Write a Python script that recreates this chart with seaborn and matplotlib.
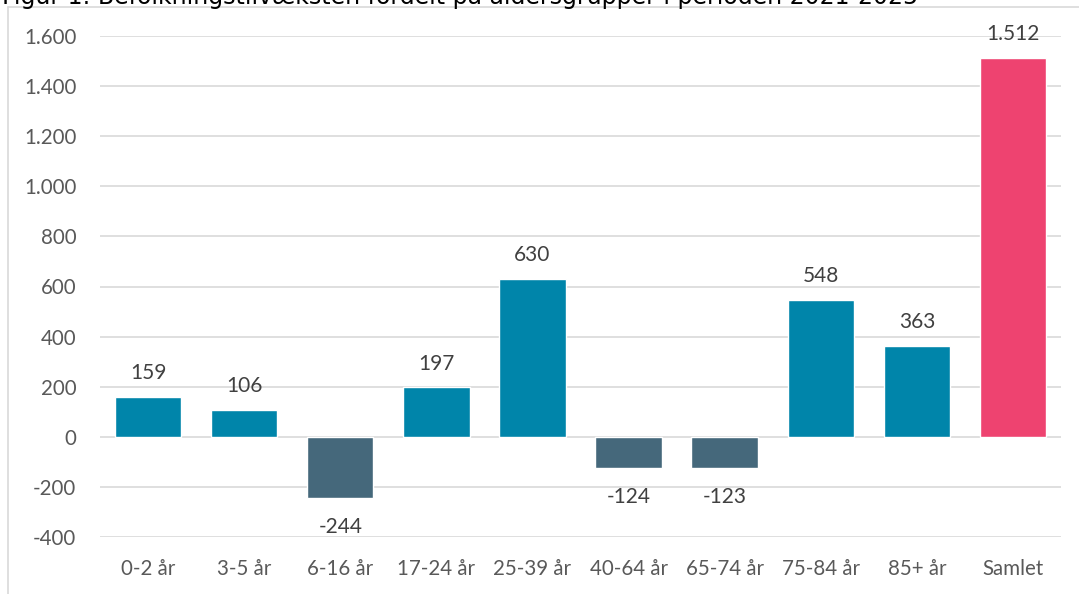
import matplotlib
matplotlib.use("Agg")
import matplotlib.pyplot as plt
import matplotlib.ticker as mticker
from matplotlib.lines import Line2D
import seaborn as sns
import pandas as pd

categories = ["0-2 år", "3-5 år", "6-16 år", "17-24 år", "25-39 år",
              "40-64 år", "65-74 år", "75-84 år", "85+ år", "Samlet"]
values = [159, 106, -244, 197, 630, -124, -123, 548, 363, 1512]
y_ticks = [-400, -200, 0, 200, 400, 600, 800, 1000, 1200, 1400, 1600]
title = "Figur 1: Befolkningstilvæksten fordelt på aldersgrupper i perioden 2021-2025"

TEAL = "#0085AA"
SLATE = "#45687B"
PINK = "#EE4370"


def dk_fmt(v):
    # dansk tusindtalsseparator
    return f"{int(v):,}".replace(",", ".")


df = pd.DataFrame({"gruppe": categories, "tilvaekst": values})
farver = [PINK if g == "Samlet" else (TEAL if v >= 0 else SLATE)
          for g, v in zip(df["gruppe"], df["tilvaekst"])]

sns.set_style("white")
plt.rcParams["font.family"] = ["Lato", "DejaVu Sans"]

fig = plt.figure(figsize=(10.79, 5.94), dpi=100)
ax = fig.add_axes([100 / 1079, 1 - 537 / 594, 961 / 1079, 501 / 594])

sns.barplot(data=df, x="gruppe", y="tilvaekst", hue="gruppe", palette=farver,
            saturation=1, width=0.69, legend=False, ax=ax, zorder=3)

ax.set_ylim(-400, 1600)
ax.set_yticks(y_ticks)
ax.yaxis.set_major_formatter(mticker.FuncFormatter(lambda v, p: dk_fmt(v)))
ax.grid(axis="y", color="#D9D9D9", linewidth=1.2, zorder=0)
ax.set_xlabel("")
ax.set_ylabel("")
for s in ax.spines.values():
    s.set_visible(False)
ax.tick_params(axis="both", length=0, labelsize=14.8, colors="#595959")
ax.tick_params(axis="x", pad=16)
ax.tick_params(axis="y", pad=17)

for i, v in enumerate(values):
    if v >= 0:
        ax.annotate(dk_fmt(v), (i, v), xytext=(0, 10), textcoords="offset points",
                    ha="center", va="bottom", fontsize=15, color="#404040")
    else:
        ax.annotate(dk_fmt(v), (i, v), xytext=(0, -14), textcoords="offset points",
                    ha="center", va="top", fontsize=15, color="#404040")

# ramme omkring diagrammet (kun top og venstre synlig)
fig.add_artist(Line2D([8 / 1079, 1], [1 - 7 / 594, 1 - 7 / 594], color="#D9D9D9",
                      linewidth=1.2, transform=fig.transFigure))
fig.add_artist(Line2D([8 / 1079, 8 / 1079], [0, 1 - 7 / 594], color="#D9D9D9",
                      linewidth=1.2, transform=fig.transFigure))

fig.text(0.002, 1 - 4 / 594, title, ha="left", va="baseline", fontsize=17,
         color="black", family="DejaVu Sans")

fig.savefig("out.png", dpi=100)
